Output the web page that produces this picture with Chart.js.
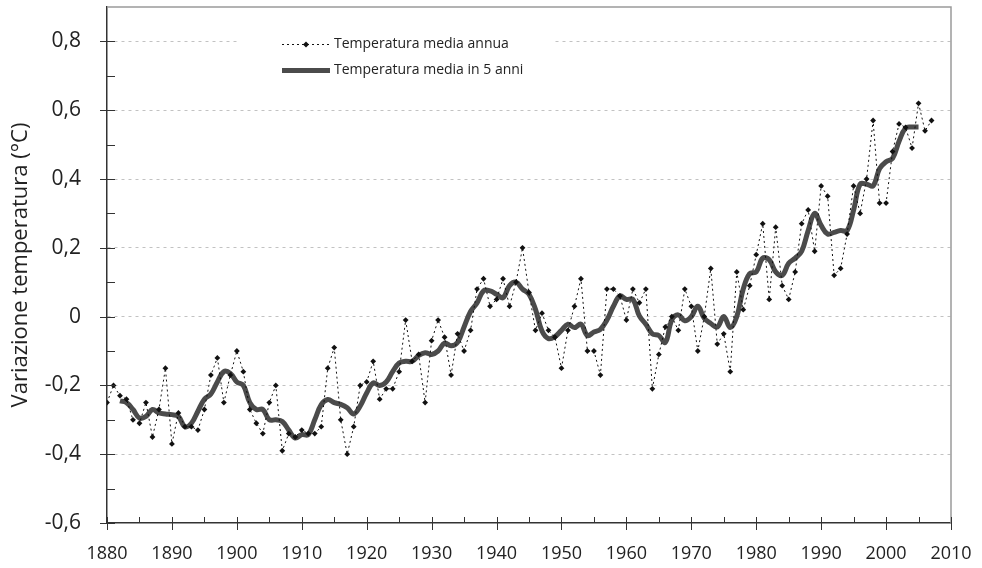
<!DOCTYPE html>
<html>
<head>
<meta charset="utf-8">
<script src="https://cdn.jsdelivr.net/npm/chart.js@4.4.0/dist/chart.umd.min.js"></script>
<style>
html, body { margin: 0; padding: 0; background: #fff; }
#wrap { width: 982px; height: 568px; }
</style>
</head>
<body>
<div id="wrap"><canvas id="chart" width="982" height="568"></canvas></div>
<script>
// anni e valori
const anni = [
  1880, 1881, 1882, 1883, 1884, 1885, 1886, 1887, 1888, 1889,
  1890, 1891, 1892, 1893, 1894, 1895, 1896, 1897, 1898, 1899,
  1900, 1901, 1902, 1903, 1904, 1905, 1906, 1907, 1908, 1909,
  1910, 1911, 1912, 1913, 1914, 1915, 1916, 1917, 1918, 1919,
  1920, 1921, 1922, 1923, 1924, 1925, 1926, 1927, 1928, 1929,
  1930, 1931, 1932, 1933, 1934, 1935, 1936, 1937, 1938, 1939,
  1940, 1941, 1942, 1943, 1944, 1945, 1946, 1947, 1948, 1949,
  1950, 1951, 1952, 1953, 1954, 1955, 1956, 1957, 1958, 1959,
  1960, 1961, 1962, 1963, 1964, 1965, 1966, 1967, 1968, 1969,
  1970, 1971, 1972, 1973, 1974, 1975, 1976, 1977, 1978, 1979,
  1980, 1981, 1982, 1983, 1984, 1985, 1986, 1987, 1988, 1989,
  1990, 1991, 1992, 1993, 1994, 1995, 1996, 1997, 1998, 1999,
  2000, 2001, 2002, 2003, 2004, 2005, 2006, 2007
];

const mediaAnnua = [
  -0.25, -0.20, -0.23, -0.24, -0.30, -0.31, -0.25, -0.35, -0.27, -0.15,
  -0.37, -0.28, -0.32, -0.32, -0.33, -0.27, -0.17, -0.12, -0.25, -0.17,
  -0.10, -0.16, -0.27, -0.31, -0.34, -0.25, -0.20, -0.39, -0.34, -0.35,
  -0.33, -0.34, -0.34, -0.32, -0.15, -0.09, -0.30, -0.40, -0.32, -0.20,
  -0.19, -0.13, -0.24, -0.21, -0.21, -0.16, -0.01, -0.13, -0.11, -0.25,
  -0.07, -0.01, -0.06, -0.17, -0.05, -0.10, -0.04, 0.08, 0.11, 0.03,
  0.05, 0.11, 0.03, 0.10, 0.20, 0.07, -0.04, 0.01, -0.04, -0.06,
  -0.15, -0.04, 0.03, 0.11, -0.10, -0.10, -0.17, 0.08, 0.08, 0.06,
  -0.01, 0.08, 0.04, 0.08, -0.21, -0.11, -0.03, 0.00, -0.04, 0.08,
  0.03, -0.10, 0.00, 0.14, -0.08, -0.05, -0.16, 0.13, 0.02, 0.09,
  0.18, 0.27, 0.05, 0.26, 0.09, 0.05, 0.13, 0.27, 0.31, 0.19,
  0.38, 0.35, 0.12, 0.14, 0.24, 0.38, 0.30, 0.40, 0.57, 0.33,
  0.33, 0.48, 0.56, 0.55, 0.49, 0.62, 0.54, 0.57
];

// media su 5 anni, dal 1882 al 2005
const anniMedia5 = anni.slice(2, 126);
const media5 = [
  -0.245, -0.25, -0.27, -0.295, -0.29, -0.27, -0.28, -0.283,
  -0.285, -0.29, -0.32, -0.31, -0.275, -0.24, -0.225, -0.19, -0.16, -0.165,
  -0.19, -0.20, -0.25, -0.27, -0.27, -0.30, -0.30, -0.305, -0.33, -0.353,
  -0.343, -0.343, -0.30, -0.256, -0.241, -0.25, -0.255, -0.265, -0.283, -0.26,
  -0.222, -0.193, -0.20, -0.19, -0.16, -0.135, -0.13, -0.13, -0.113, -0.105,
  -0.11, -0.10, -0.077, -0.085, -0.075, -0.03, 0.015, 0.04, 0.075, 0.075,
  0.065, 0.055, 0.09, 0.10, 0.08, 0.065, 0.021, -0.042, -0.064, -0.058,
  -0.04, -0.022, -0.032, -0.022, -0.055, -0.045, -0.037, -0.01, 0.03, 0.06,
  0.05, 0.05, 0.002, -0.022, -0.05, -0.055, -0.075, -0.01, 0.005, -0.012,
  0.00, 0.03, -0.005, -0.02, -0.03, 0.00, -0.032, 0.00, 0.08, 0.125,
  0.13, 0.17, 0.165, 0.13, 0.12, 0.155, 0.17, 0.19, 0.25, 0.30,
  0.265, 0.24, 0.245, 0.25, 0.25, 0.31, 0.385, 0.385, 0.38, 0.43,
  0.45, 0.46, 0.51, 0.548, 0.551, 0.551
];

const xTickAnni = [1880, 1890, 1900, 1910, 1920, 1930, 1940, 1950, 1960, 1970, 1980, 1990, 2000, 2010];
const yTickValori = [-0.6, -0.4, -0.2, 0, 0.2, 0.4, 0.6, 0.8];
const yTickEtichette = ['-0,6', '-0,4', '-0,2', '0', '0,2', '0,4', '0,6', '0,8'];

const FONT = "'Open Sans', sans-serif";
const GRIGIO = '#4b4b4b';

// cornice, tacche e legenda
const cornice = {
  id: 'cornice',
  beforeDatasetsDraw(chart) {
    const c = chart.ctx;
    // fondo bianco della legenda (interrompe la griglia)
    c.save();
    c.fillStyle = '#fff';
    c.fillRect(240, 28, 315, 56);
    c.restore();
  },
  afterDraw(chart) {
    const c = chart.ctx, a = chart.chartArea;
    const xs = chart.scales.x, ys = chart.scales.y;
    c.save();
    c.strokeStyle = '#9a9a9a';
    c.lineWidth = 1.5;
    c.beginPath();
    c.moveTo(a.left, a.top);
    c.lineTo(a.right, a.top);
    c.lineTo(a.right, a.bottom);
    c.stroke();

    c.strokeStyle = '#333';
    c.lineWidth = 1;
    c.beginPath();
    for (let k = -6; k <= 8; k++) {
      const y = Math.round(ys.getPixelForValue(k / 10)) + 0.5;
      if (k % 2 === 0) { c.moveTo(a.left - 7, y); c.lineTo(a.left + 8, y); }
      else { c.moveTo(a.left, y); c.lineTo(a.left + 8, y); }
    }
    for (let yr = 1880; yr <= 2010; yr += 5) {
      const x = Math.round(xs.getPixelForValue(yr)) + 0.5;
      if (yr % 10 === 0) { c.moveTo(x, a.bottom - 6); c.lineTo(x, a.bottom + 7); }
      else { c.moveTo(x, a.bottom - 6); c.lineTo(x, a.bottom); }
    }
    c.stroke();

    // legenda
    c.strokeStyle = '#111';
    c.lineWidth = 1;
    c.setLineDash([2, 3]);
    c.beginPath();
    c.moveTo(282, 44.5); c.lineTo(330, 44.5);
    c.stroke();
    c.setLineDash([]);
    c.fillStyle = '#111';
    c.beginPath();
    c.moveTo(306, 41.5); c.lineTo(309, 44.5); c.lineTo(306, 47.5); c.lineTo(303, 44.5);
    c.closePath();
    c.fill();

    c.strokeStyle = GRIGIO;
    c.lineWidth = 5;
    c.beginPath();
    c.moveTo(282, 70.5); c.lineTo(330, 70.5);
    c.stroke();

    c.fillStyle = '#222';
    c.font = '14px ' + FONT;
    c.textBaseline = 'middle';
    c.fillText('Temperatura media annua', 334, 44);
    c.fillText('Temperatura media in 5 anni', 334, 70);
    c.restore();
  }
};

new Chart(document.getElementById('chart'), {
  type: 'line',
  data: {
    datasets: [
      {
        label: 'Temperatura media annua',
        data: anni.map((a, i) => ({ x: a, y: mediaAnnua[i] })),
        borderColor: '#111',
        borderWidth: 1,
        borderDash: [2, 3],
        pointStyle: 'rectRot',
        pointRadius: 2.9,
        pointBackgroundColor: '#111',
        pointBorderWidth: 0,
        tension: 0
      },
      {
        label: 'Temperatura media in 5 anni',
        data: anniMedia5.map((a, i) => ({ x: a, y: media5[i] })),
        borderColor: GRIGIO,
        borderWidth: 5,
        pointRadius: 0,
        tension: 0.4
      }
    ]
  },
  options: {
    responsive: false,
    animation: false,
    layout: { padding: { top: 7, right: 31, left: 0, bottom: 0 } },
    plugins: { legend: { display: false }, tooltip: { enabled: false } },
    scales: {
      x: {
        type: 'linear',
        min: 1880,
        max: 2010,
        afterBuildTicks: s => { s.ticks = xTickAnni.map(v => ({ value: v })); },
        afterFit: s => { s.height = 45; s.paddingLeft = 0; s.paddingRight = 0; },
        ticks: {
          autoSkip: false,
          maxRotation: 0,
          padding: 20,
          color: '#222',
          font: { family: FONT, size: 18 },
          callback: v => String(v)
        },
        grid: { display: false, drawTicks: false },
        border: { display: true, color: '#333', width: 1.5 }
      },
      y: {
        min: -0.6,
        max: 0.9,
        afterBuildTicks: s => { s.ticks = yTickValori.map(v => ({ value: v })); },
        afterFit: s => { s.width = 107; s.paddingTop = 0; s.paddingBottom = 0; },
        ticks: {
          autoSkip: false,
          padding: 26,
          color: '#222',
          font: { family: FONT, size: 21 },
          callback: (v, i) => yTickEtichette[i]
        },
        grid: {
          drawTicks: false,
          lineWidth: 1,
          color: c => (c.tick && c.tick.value > -0.55) ? '#c2c2c2' : 'rgba(0,0,0,0)'
        },
        border: { display: true, color: '#333', width: 1.5, dash: [3, 4] },
        title: {
          display: true,
          text: 'Variazione temperatura (°C)',
          color: '#222',
          font: { family: FONT, size: 22 },
          padding: { top: 8, bottom: 0 }
        }
      }
    }
  },
  plugins: [cornice]
});
</script>
</body>
</html>
